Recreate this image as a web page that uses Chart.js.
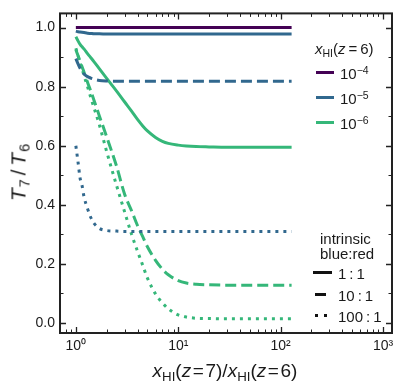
<!DOCTYPE html>
<html>
<head>
<meta charset="utf-8">
<script src="https://cdn.jsdelivr.net/npm/chart.js@4"></script>
<style>
  body { margin: 0; background: #fff; }
  #wrap { position: relative; width: 406px; height: 391px; font-family: "Liberation Sans", Arial, sans-serif; color: #1a1a1a; }
  #wrap canvas { position: absolute; left: 0; top: 0; }
  .lbl { position: absolute; white-space: nowrap; line-height: 1; }
  .sub { font-size: 70%; position: relative; top: 0.3em; }
  .sup { font-size: 70%; position: relative; top: -0.5em; }
  .sw { position: absolute; height: 3px; }
</style>
</head>
<body>
<div id="wrap">
  <canvas id="chart" width="406" height="391"></canvas>

  <!-- axis titles -->
  <div class="lbl" style="left:225px;top:361px;font-size:19px;transform:translateX(-50%)"><i>x</i><span class="sub">HI</span>(<i>z</i>&#8202;=&#8202;7)/<i>x</i><span class="sub">HI</span>(<i>z</i>&#8202;=&#8202;6)</div>
  <div class="lbl" style="left:18px;top:172px;font-size:21px;letter-spacing:1px;transform:translate(-50%,-50%) rotate(-90deg)"><i>T</i><span class="sub">7</span>&#8202;/&#8202;<i>T</i><span class="sub">6</span></div>

  <!-- legend: neutral fraction -->
  <div class="lbl" style="left:315px;top:41px;font-size:15px"><i>x</i><span class="sub">HI</span>(<i>z</i>&#8201;=&#8201;6)</div>
  <div class="sw" style="left:316px;top:71px;width:18px;background:#440154"></div>
  <div class="lbl" style="left:340px;top:66px;font-size:15px">10<span class="sup">&minus;4</span></div>
  <div class="sw" style="left:316px;top:96px;width:18px;background:#31688e"></div>
  <div class="lbl" style="left:340px;top:91px;font-size:15px">10<span class="sup">&minus;5</span></div>
  <div class="sw" style="left:316px;top:121px;width:18px;background:#35b779"></div>
  <div class="lbl" style="left:340px;top:116px;font-size:15px">10<span class="sup">&minus;6</span></div>

  <!-- legend: line styles -->
  <div class="lbl" style="left:320px;top:231px;font-size:15px">intrinsic</div>
  <div class="lbl" style="left:320px;top:246px;font-size:15px">blue:red</div>
  <div class="sw" style="left:313px;top:271px;width:19px;background:#111"></div>
  <div class="lbl" style="left:338px;top:266px;font-size:15px">1&#8201;:&#8201;1</div>
  <div class="sw" style="left:315px;top:293px;width:11px;background:#111"></div>
  <div class="lbl" style="left:338px;top:288px;font-size:15px">10&#8201;:&#8201;1</div>
  <div class="sw" style="left:315px;top:314px;width:3px;background:#111"></div>
  <div class="sw" style="left:324px;top:314px;width:3px;background:#111"></div>
  <div class="lbl" style="left:338px;top:309px;font-size:15px">100&#8201;:&#8201;1</div>
</div>

<script>
// x_HI(z=7)/x_HI(z=6)
const xVals = [1, 1.05, 1.1, 1.15, 1.2, 1.3, 1.4, 1.5, 1.7, 2, 2.5, 3, 3.5, 4, 4.5, 5, 6, 7, 8, 10, 12, 15, 20, 30, 50, 80, 128];

// T7/T6, x_HI(z=6) = 1e-4
const t4_1 = [1, 1, 1, 1, 1, 1, 1, 1, 1, 1, 1, 1, 1, 1, 1, 1, 1, 1, 1, 1, 1, 1, 1, 1, 1, 1, 1];

// x_HI(z=6) = 1e-5
const t5_1 = [0.988, 0.986, 0.985, 0.984, 0.983, 0.981, 0.980, 0.979, 0.979, 0.978, 0.978, 0.978, 0.978, 0.978, 0.978, 0.978, 0.978, 0.978, 0.978, 0.978, 0.978, 0.978, 0.978, 0.978, 0.978, 0.978, 0.978];
const t5_10 = [0.895, 0.877, 0.862, 0.851, 0.843, 0.834, 0.829, 0.825, 0.821, 0.819, 0.818, 0.818, 0.818, 0.818, 0.818, 0.818, 0.818, 0.818, 0.818, 0.818, 0.818, 0.818, 0.818, 0.818, 0.818, 0.818, 0.818];
const t5_100 = [0.60, 0.545, 0.49, 0.465, 0.428, 0.387, 0.357, 0.338, 0.32, 0.313, 0.311, 0.31, 0.31, 0.31, 0.31, 0.31, 0.31, 0.31, 0.31, 0.31, 0.31, 0.31, 0.31, 0.31, 0.31, 0.31, 0.31];

// x_HI(z=6) = 1e-6
const t6_1 = [0.969, 0.955, 0.943, 0.935, 0.928, 0.912, 0.898, 0.885, 0.86, 0.828, 0.785, 0.748, 0.717, 0.689, 0.667, 0.65, 0.628, 0.615, 0.608, 0.602, 0.599, 0.597, 0.596, 0.595, 0.595, 0.595, 0.595];
const t6_10 = [0.925, 0.905, 0.885, 0.867, 0.85, 0.815, 0.785, 0.755, 0.70, 0.63, 0.53, 0.435, 0.38, 0.33, 0.292, 0.258, 0.212, 0.182, 0.163, 0.143, 0.135, 0.131, 0.129, 0.128, 0.128, 0.128, 0.128];
const t6_100 = [0.93, 0.905, 0.88, 0.86, 0.838, 0.80, 0.763, 0.73, 0.67, 0.58, 0.465, 0.375, 0.30, 0.243, 0.195, 0.152, 0.098, 0.068, 0.048, 0.027, 0.02, 0.016, 0.015, 0.014, 0.014, 0.014, 0.014];

// axis ticks
const xMajor = [1, 10, 100, 1000];
const xMinor = [0.8, 0.9, 2, 3, 4, 5, 6, 7, 8, 9, 20, 30, 40, 50, 60, 70, 80, 90, 200, 300, 400, 500, 600, 700, 800, 900];
const yMajor = [0, 0.2, 0.4, 0.6, 0.8, 1.0];
const yMinor = [0.1, 0.3, 0.5, 0.7, 0.9];

const purple = '#440154';
const blue = '#31688e';
const green = '#35b779';

const sup = {'0': '\u2070', '1': '\u00b9', '2': '\u00b2', '3': '\u00b3'};

function pts(ys) {
  return xVals.map((x, i) => ({x: x, y: ys[i]}));
}

function line(ys, color, dash) {
  return {
    data: pts(ys),
    borderColor: color,
    borderWidth: 3,
    borderDash: dash,
    borderCapStyle: 'butt',
    pointRadius: 0,
    cubicInterpolationMode: 'monotone',
    fill: false
  };
}

// frame and inward ticks on all four sides
const frameTicks = {
  id: 'frameTicks',
  afterDatasetsDraw(chart) {
    const {ctx, chartArea: a, scales: {x, y}} = chart;
    ctx.save();
    ctx.strokeStyle = '#222';
    const drawX = (vals, len, w) => {
      ctx.lineWidth = w;
      vals.forEach(v => {
        const px = Math.round(x.getPixelForValue(v)) + 0.5;
        ctx.beginPath();
        ctx.moveTo(px, a.bottom); ctx.lineTo(px, a.bottom - len);
        ctx.moveTo(px, a.top); ctx.lineTo(px, a.top + len);
        ctx.stroke();
      });
    };
    const drawY = (vals, len, w) => {
      ctx.lineWidth = w;
      vals.forEach(v => {
        const py = Math.round(y.getPixelForValue(v)) + 0.5;
        ctx.beginPath();
        ctx.moveTo(a.left, py); ctx.lineTo(a.left + len, py);
        ctx.moveTo(a.right, py); ctx.lineTo(a.right - len, py);
        ctx.stroke();
      });
    };
    drawX(xMajor, 6, 1.3);
    drawX(xMinor, 3.5, 1);
    drawY(yMajor, 6, 1.3);
    drawY(yMinor, 3.5, 1);
    ctx.lineWidth = 2;
    ctx.strokeRect(a.left, a.top, a.right - a.left, a.bottom - a.top);
    ctx.restore();
  }
};

new Chart(document.getElementById('chart'), {
  type: 'line',
  data: {
    datasets: [
      line(t4_1, purple, []),
      line(t5_1, blue, []),
      line(t5_10, blue, [11, 5]),
      line(t5_100, blue, [3, 5]),
      line(t6_1, green, []),
      line(t6_10, green, [11, 5]),
      line(t6_100, green, [3, 5])
    ]
  },
  options: {
    responsive: false,
    devicePixelRatio: 1,
    animation: false,
    layout: {padding: {top: 11, right: 14, left: 0, bottom: 0}},
    plugins: {legend: {display: false}, tooltip: {enabled: false}},
    scales: {
      x: {
        type: 'logarithmic',
        min: 0.7,
        max: 1224,
        grid: {display: false, drawTicks: false},
        border: {display: false},
        afterBuildTicks: s => { s.ticks = xMajor.map(v => ({value: v})); },
        afterFit: s => { s.height = 58; },
        ticks: {
          autoSkip: false,
          maxRotation: 0,
          padding: 5,
          color: '#1a1a1a',
          font: {family: '"Liberation Sans", Arial, sans-serif', size: 14},
          callback: v => '10' + sup[String(Math.round(Math.log10(v)))]
        }
      },
      y: {
        min: -0.034,
        max: 1.048,
        grid: {display: false, drawTicks: false},
        border: {display: false},
        afterBuildTicks: s => { s.ticks = yMajor.map(v => ({value: v})); },
        afterFit: s => { s.width = 60; },
        ticks: {
          padding: 5,
          color: '#1a1a1a',
          font: {family: '"Liberation Sans", Arial, sans-serif', size: 14},
          callback: v => v.toFixed(1)
        }
      }
    }
  },
  plugins: [frameTicks]
});
</script>
</body>
</html>
